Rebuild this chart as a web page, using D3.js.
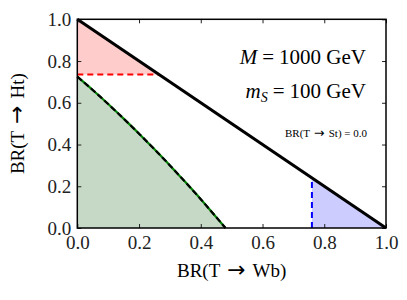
<!DOCTYPE html>
<html lang="en">
<head>
  <meta charset="UTF-8">
  <title>BR triangle</title>
  <script src="https://d3js.org/d3.v7.min.js"></script>
  <style>
    html, body {
      margin: 0;
      padding: 0;
      background: white;
      overflow: hidden;
    }
    svg {
      display: block;
      font-family: "Liberation Serif", "DejaVu Serif", serif;
    }
  </style>
</head>
<body>
<svg width="407" height="300"></svg>
<script>
  // data
  const ticks = [0.0, 0.2, 0.4, 0.6, 0.8, 1.0];
  const tickLabels = ["0.0", "0.2", "0.4", "0.6", "0.8", "1.0"];
  const boundaryX = [0.0, 1.0];
  const boundaryY = [1.0, 0.0];
  const htLimit = 0.735;      // red dashed
  const wbLimit = 0.76;       // blue dashed
  const greenX = [0.0, 0.05, 0.1, 0.15, 0.2, 0.25, 0.3, 0.35, 0.4, 0.45, 0.48];
  const greenY = [0.725, 0.661, 0.594, 0.524, 0.452, 0.377, 0.30, 0.22, 0.138, 0.052, 0.0];

  const svg = d3.select("svg");
  const pLeft = 77.3, pRight = 386, pTop = 19.3, pBottom = 228;

  const x = d3.scaleLinear().domain([0, 1]).range([pLeft, pRight]);
  const y = d3.scaleLinear().domain([0, 1]).range([pBottom, pTop]);

  const line = d3.line().x(d => x(d[0])).y(d => y(d[1]));

  // red region: between diagonal and y = htLimit
  const redPts = [[0, 1], [1 - htLimit, htLimit], [0, htLimit]];
  svg.append("path")
    .attr("d", line(redPts) + "Z")
    .attr("fill", "#ffcccc");

  // blue region: under diagonal right of wbLimit
  const bluePts = [[wbLimit, 0], [wbLimit, 1 - wbLimit], [1, 0]];
  svg.append("path")
    .attr("d", line(bluePts) + "Z")
    .attr("fill", "#ccccff");

  // green region
  const greenPts = greenX.map((v, i) => [v, greenY[i]]);
  const curve = d3.line().x(d => x(d[0])).y(d => y(d[1])).curve(d3.curveMonotoneX);
  svg.append("path")
    .attr("d", curve(greenPts) + "L" + x(0) + "," + y(0) + "Z")
    .attr("fill", "#c6d8c6");

  svg.append("path")
    .attr("d", curve(greenPts))
    .attr("fill", "none")
    .attr("stroke", "green")
    .attr("stroke-width", 2.2);
  svg.append("path")
    .attr("d", curve(greenPts))
    .attr("fill", "none")
    .attr("stroke", "black")
    .attr("stroke-width", 2.2)
    .attr("stroke-dasharray", "6,3");

  // red dashed
  svg.append("path")
    .attr("d", line([[0, htLimit], [1 - htLimit, htLimit]]))
    .attr("stroke", "red")
    .attr("stroke-width", 2)
    .attr("stroke-dasharray", "6,4");

  // blue dashed
  svg.append("path")
    .attr("d", line([[wbLimit, 0], [wbLimit, 1 - wbLimit]]))
    .attr("stroke", "blue")
    .attr("stroke-width", 2)
    .attr("stroke-dasharray", "6,4");

  // diagonal
  svg.append("path")
    .attr("d", line(boundaryX.map((v, i) => [v, boundaryY[i]])))
    .attr("stroke", "black")
    .attr("stroke-width", 3);

  // axes with inward ticks on all sides
  const fmt = (d, i) => tickLabels[i];
  svg.append("g")
    .attr("transform", `translate(0,${pBottom})`)
    .call(d3.axisBottom(x).tickValues(ticks).tickFormat(fmt).tickSize(-4).tickPadding(8));
  svg.append("g")
    .attr("transform", `translate(${pLeft},0)`)
    .call(d3.axisLeft(y).tickValues(ticks).tickFormat(fmt).tickSize(-4).tickPadding(6));
  svg.append("g")
    .attr("transform", `translate(0,${pTop})`)
    .call(d3.axisTop(x).tickValues(ticks).tickFormat("").tickSize(-4));
  svg.append("g")
    .attr("transform", `translate(${pRight},0)`)
    .call(d3.axisRight(y).tickValues(ticks).tickFormat("").tickSize(-4));

  svg.selectAll(".domain").remove();
  svg.selectAll(".tick line").attr("stroke", "#222").attr("stroke-width", 1);
  svg.selectAll(".tick text")
    .attr("font-family", "Liberation Serif, DejaVu Serif, serif")
    .attr("font-size", 19)
    .attr("fill", "#222");

  svg.append("rect")
    .attr("x", pLeft).attr("y", pTop)
    .attr("width", pRight - pLeft).attr("height", pBottom - pTop)
    .attr("fill", "none")
    .attr("stroke", "black")
    .attr("stroke-width", 1.5);

  // text with a long arrow taken from DejaVu Sans
  function brText(sel, before, after) {
    sel.append("tspan").text(before);
    sel.append("tspan").attr("font-family", "DejaVu Sans").attr("font-size", "1.15em").text(" → ");
    sel.append("tspan").text(after);
    return sel;
  }

  // axis labels
  brText(svg.append("text")
    .attr("x", (pLeft + pRight) / 2)
    .attr("y", 277)
    .attr("text-anchor", "middle")
    .attr("font-size", 19), "BR(T", "Wb)");
  brText(svg.append("text")
    .attr("transform", `translate(24,${(pTop + pBottom) / 2}) rotate(-90)`)
    .attr("text-anchor", "middle")
    .attr("font-size", 19), "BR(T", "Ht)");

  // annotations
  const t1 = svg.append("text").attr("x", 366).attr("y", 64)
    .attr("text-anchor", "end").attr("font-size", 21);
  t1.append("tspan").attr("font-style", "italic").text("M");
  t1.append("tspan").attr("dx", 5).text("=");
  t1.append("tspan").attr("dx", 5).text("1000 GeV");

  const t2 = svg.append("text").attr("x", 366).attr("y", 98)
    .attr("text-anchor", "end").attr("font-size", 21);
  t2.append("tspan").attr("font-style", "italic").text("m");
  t2.append("tspan").attr("font-style", "italic").attr("font-size", 14).attr("dy", 4).text("S");
  t2.append("tspan").attr("dy", -4).attr("dx", 5).text("=");
  t2.append("tspan").attr("dx", 5).text("100 GeV");

  brText(svg.append("text").attr("x", 367).attr("y", 137)
    .attr("text-anchor", "end").attr("font-size", 11), "BR(T", "St) = 0.0");
</script>
</body>
</html>
